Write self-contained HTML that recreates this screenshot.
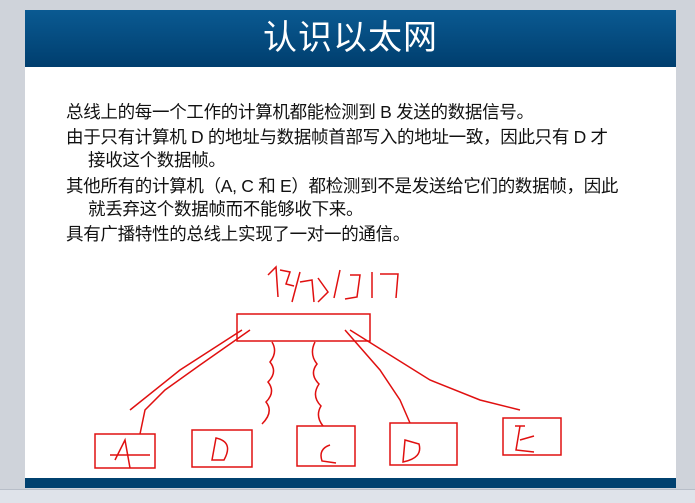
<!DOCTYPE html>
<html><head><meta charset="utf-8"><style>
body{margin:0;width:695px;height:502px;background:#cfd3da;position:relative;overflow:hidden;font-family:"Liberation Sans","Noto Sans CJK SC",sans-serif}
.slide{position:absolute;left:25px;top:10px;width:651px;height:478px;background:#fff}
.hdr{position:absolute;left:0;top:0;width:651px;height:57px;background:linear-gradient(#0a5a92,#003e6e);color:#fff;text-align:center;font-size:34px;line-height:57px;letter-spacing:1px}
.ftr{position:absolute;left:0;top:468px;width:651px;height:10px;background:#00416f}
.t{position:absolute;font-size:17.5px;color:#111;white-space:nowrap;letter-spacing:-0.3px}
.sb{position:absolute;left:0;top:489px;width:695px;height:13px;background:#dfe3ea;border-top:1px solid #b8bec8}
</style></head><body>
<div class="slide">
<div class="hdr">认识以太网</div>
<div class="t" style="left:41px;top:89px">总线上的每一个工作的计算机都能检测到 B 发送的数据信号。</div>
<div class="t" style="left:41px;top:114px">由于只有计算机 D 的地址与数据帧首部写入的地址一致，因此只有 D 才</div>
<div class="t" style="left:63px;top:137px">接收这个数据帧。</div>
<div class="t" style="left:41px;top:163px">其他所有的计算机（A, C 和 E）都检测到不是发送给它们的数据帧，因此</div>
<div class="t" style="left:63px;top:186px">就丢弃这个数据帧而不能够收下来。</div>
<div class="t" style="left:41px;top:211px">具有广播特性的总线上实现了一对一的通信。</div>
<div class="ftr"></div>
</div>
<svg style="position:absolute;left:0;top:0" width="695" height="502" fill="none" stroke="#e01010" stroke-width="1.5">
<rect x="237" y="314" width="133" height="27"/>
<rect x="95" y="434" width="60" height="34"/>
<rect x="192" y="430" width="60" height="37"/>
<rect x="297" y="426" width="58" height="40"/>
<rect x="390" y="423" width="67" height="42"/>
<rect x="503" y="418" width="58" height="37"/>
<path d="M268 275 l8 -8 l2 30 M280 270 l10 2 l-4 12 l8 2 M300 272 l-8 30 M300 282 l12 -2 l2 22 M318 278 l10 14 l-10 10 M340 270 l-6 28 M350 275 l10 0 l-3 22 l-12 2 M372 272 l0 26 M380 274 l18 0 l-2 24"/>
<path d="M250 330 L200 365 L165 390 L145 410 L140 434 M242 330 L180 370 L130 410"/>
<path d="M272 342 q6 10 -2 20 q8 10 -2 20 q8 10 -2 20 q8 10 -4 22"/>
<path d="M315 342 q-6 12 2 22 q-8 10 2 20 q-8 12 2 22 q-6 10 2 20"/>
<path d="M345 330 L380 370 L400 400 L410 423 M350 330 L430 380 L480 400 L520 410"/>
<path d="M115 460 l10 -20 l5 28 M110 455 l40 0 M212 460 l4 -22 q18 4 8 22 z M330 445 q-12 4 -8 16 l14 2 M405 440 l-2 22 q20 -4 16 -18 z M515 426 l10 0 M520 426 l-4 24 l18 2 M520 440 l14 -4"/>
</svg>
<div class="sb"></div>
</body></html>
